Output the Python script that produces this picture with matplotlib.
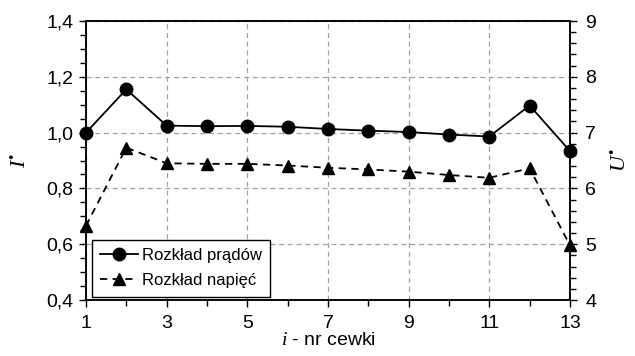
import numpy as np
import matplotlib
matplotlib.use("Agg")
from matplotlib import pyplot as plt
from matplotlib.ticker import MultipleLocator, FixedLocator, FuncFormatter

plt.rcParams['font.family'] = ['Liberation Sans', 'DejaVu Sans']
plt.rcParams['mathtext.fontset'] = 'custom'
plt.rcParams['mathtext.rm'] = 'Liberation Serif'
plt.rcParams['mathtext.it'] = 'Liberation Serif:italic'

# coil numbers and the two distributions
coil = np.arange(1, 14)
xticks = [1, 3, 5, 7, 9, 11, 13]
current = [1.00, 1.155, 1.025, 1.023, 1.024, 1.021, 1.013, 1.007, 1.002, 0.993, 0.986, 1.097, 0.934]
voltage = [5.33, 6.73, 6.45, 6.44, 6.44, 6.41, 6.37, 6.34, 6.30, 6.24, 6.19, 6.36, 4.98]

fig = plt.figure(figsize=(6.35, 3.56), dpi=100)
ax = fig.add_axes([0.1354, 0.1573, 0.7622, 0.7837])
ax2 = ax.twinx()

l1, = ax.plot(coil, current, '-o', color='black', lw=1.3, markersize=9, label='Rozkład prądów',
              zorder=5, clip_on=False)
l2, = ax2.plot(coil, voltage, '--^', color='black', lw=1.3, markersize=9, label='Rozkład napięć',
               dashes=(4, 3), zorder=5, clip_on=False)

ax.set_xlim(1, 13)
ax.set_ylim(0.4, 1.4)
ax2.set_ylim(4, 9)

ax.xaxis.set_major_locator(FixedLocator(xticks))
ax.xaxis.set_minor_locator(MultipleLocator(1))
ax.yaxis.set_major_locator(MultipleLocator(0.2))
ax.yaxis.set_minor_locator(MultipleLocator(0.05))
ax2.yaxis.set_major_locator(MultipleLocator(1))
ax2.yaxis.set_minor_locator(MultipleLocator(0.2))
ax.yaxis.set_major_formatter(FuncFormatter(lambda v, p: ('%.1f' % v).replace('.', ',')))

ax.grid(True, which='major', color='#a0a0a0', linestyle=(0, (4, 3)), linewidth=0.9)
ax.set_axisbelow(True)

for a in (ax, ax2):
    a.tick_params(which='major', direction='out', length=5, width=1, labelsize=14, color='black')
    a.tick_params(which='minor', direction='out', length=4, width=1, color='black')
    for s in a.spines.values():
        s.set_linewidth(1.1)
ax.tick_params(axis='x', pad=6)
ax.tick_params(axis='y', pad=4)
ax2.tick_params(axis='y', pad=6)

ax.set_xlabel(r'$i$ - nr cewki', fontsize=14, labelpad=0)
ax.set_ylabel('$I^{•}$', fontsize=16, labelpad=12)
ax2.set_ylabel('$U^{•}$', fontsize=16, labelpad=9)

leg = ax.legend(handles=[l1, l2], loc='lower left', bbox_to_anchor=(0.012, 0.012),
                fontsize=12, frameon=True, fancybox=False, edgecolor='black',
                framealpha=1, handlelength=2.3, handletextpad=0.2, borderpad=0.5,
                borderaxespad=0, labelspacing=0.6)
leg.get_frame().set_linewidth(1)
leg.set_zorder(10)

fig.savefig('out.png', dpi=100)
